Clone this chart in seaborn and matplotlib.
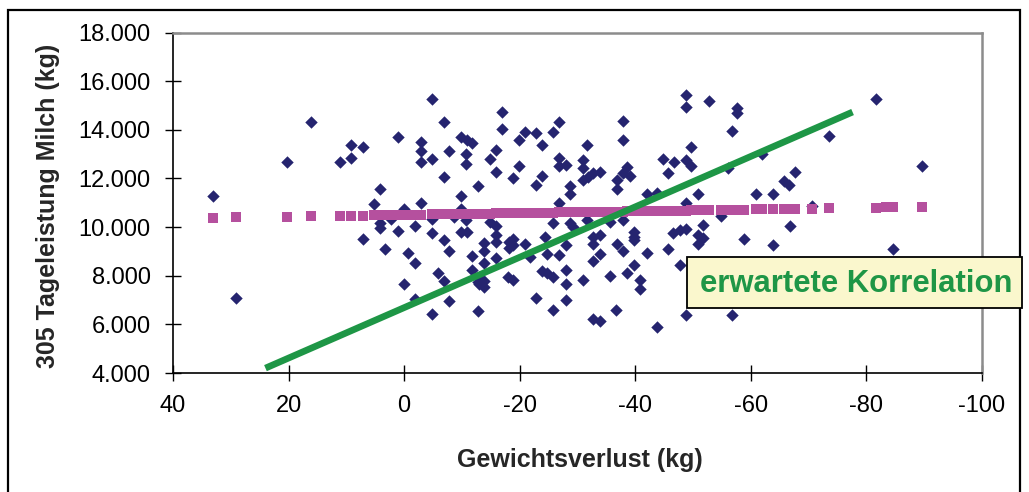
import numpy as np
import pandas as pd
import matplotlib
matplotlib.use("Agg")
import matplotlib.pyplot as plt
from matplotlib.patches import Rectangle
from matplotlib.ticker import FuncFormatter
import seaborn as sns

# Gewichtsverlust (kg) je Kuh
weight_change = [
    16.2, 20.2, 33.1, 29.1,
    1.1, 9.2, 7.1, 9.2, 11.1, 4.1, 5.2, 0.1, 4.1, 4.1, 2.3, 1.1, 7.1, 3.3, -0.7, 0.0,
    -4.8, -6.9, -2.9, -2.9, -4.8, -2.9, -7.75, -9.8, -10.8, -11.7, -10.7, -10.7, -6.9,
    -12.7, -9.9, -2.9, -9.8, -8.7, -4.8, -10.7, -1.8, -4.8, -9.8, -10.8, -6.9, -7.75,
    -11.7, -1.8, -11.7, -5.8, -6.9, -12.7, -1.8, -7.75, -4.8, -12.7,
    -16.9, -16.9, -20.9, -19.9, -22.8, -23.8, -15.9, -14.8, -15.9, -19.9, -18.8, -23.8,
    -22.8, -14.8, -15.9, -15.9, -15.9, -13.9, -18.1, -18.8, -18.1, -18.8, -20.9, -13.9,
    -21.8, -15.9, -13.9, -23.8, -12.9, -13.9, -12.9, -13.9, -18.0, -18.8, -22.8,
    -26.8, -25.8, -31.7, -26.8, -26.8, -28.0, -30.9, -30.9, -32.7, -33.9, -31.9, -30.9,
    -28.7, -28.7, -36.8, -36.8, -26.8, -25.8, -28.7, -29.3, -31.6, -32.7, -33.9, -32.7,
    -35.6, -36.8, -24.3, -24.7, -28.0, -26.8, -33.9, -32.7, -24.7, -25.8, -28.0, -28.0,
    -30.9, -35.6, -28.0, -25.8, -36.6, -32.7, -33.9,
    -48.8, -48.8, -37.9, -37.9, -44.8, -46.7, -48.8, -45.7, -38.6, -37.9, -39.0, -42.0,
    -43.7, -48.8, -37.9, -46.6, -47.7, -48.8, -39.8, -39.8, -39.8, -37.9, -42.0, -45.7,
    -38.6, -39.8, -40.8, -40.8, -47.7, -43.8, -48.8,
    -52.7, -57.6, -57.6, -56.7, -49.7, -49.7, -61.9, -56.1, -67.6, -65.7, -66.6, -60.9,
    -63.8, -50.9, -54.8, -66.7, -51.7, -50.9, -51.7, -50.9, -58.8, -63.8, -56.7,
    -81.7, -73.5, -89.7, -70.5, -84.6, -83.4,
]

# 305-Tage-Milchleistung (kg) je Kuh
milk_yield = [
    14300, 12660, 11280, 7090,
    13690, 13360, 13280, 12860, 12660, 11560, 10940, 10750, 10150, 9980, 10350, 9840, 9500, 9100, 8950, 7650,
    15280, 14320, 13490, 13140, 12790, 12670, 13140, 13710, 13600, 13440, 13000, 12590, 12040,
    11680, 11280, 11000, 10740, 10420, 10350, 10280, 10050, 9760, 9790, 9790, 9460, 9020,
    8830, 8540, 8230, 8130, 7790, 7730, 7060, 6960, 6420, 6550,
    14730, 14040, 13910, 13600, 13850, 13360, 13160, 12810, 12270, 12530, 12000, 12090,
    11750, 10210, 10050, 9670, 9390, 9350, 9400, 9500, 9150, 9250, 9320, 9020,
    8770, 8730, 8530, 8190, 7950, 7800, 7650, 7520, 7930, 7820, 7100,
    14320, 13910, 13360, 12860, 12510, 12550, 12750, 12440, 12210, 12260, 12070, 11930,
    11680, 11380, 11930, 11550, 11000, 10170, 10150, 10010, 10280, 9600, 9670, 9320,
    10210, 9320, 9600, 8910, 9260, 8840, 8910, 8600, 8120, 7950, 8230, 7650,
    7840, 7980, 6990, 6610, 6610, 6240, 6140,
    15420, 14950, 14370, 13600, 12810, 12670, 12750, 12210, 12450, 12210, 12090, 11380,
    11420, 10970, 10310, 9760, 9900, 9930, 9800, 9600, 9460, 9020, 8940, 9080,
    8120, 8430, 7810, 7470, 8420, 5890, 6370,
    15190, 14890, 14700, 13960, 13300, 12510, 13000, 12410, 12270, 11900, 11720, 11380,
    11350, 11350, 10450, 10040, 10080, 9670, 9550, 9300, 9490, 9260, 6370,
    15280, 13750, 12520, 10850, 9080, 7500,
]

# Lineare Trendlinie der Messwerte (Werte an den Rändern der Punktwolke)
trend_x = [33.1, -89.7]
trend_y = [10380, 10830]

# Erwartete Korrelation (Geradenendpunkte)
expected_x = [24.0, -77.6]
expected_y = [4200, 14730]

x_ticks = [40, 20, 0, -20, -40, -60, -80, -100]
y_ticks = [4000, 6000, 8000, 10000, 12000, 14000, 16000, 18000]

NAVY = "#25246F"
PINK = "#B5509E"
GREEN = "#1E9646"

sns.set_theme(style="white")
plt.rcParams["font.family"] = ["Liberation Sans", "DejaVu Sans"]
plt.rcParams["axes.unicode_minus"] = False

W, H = 1029, 492
fig = plt.figure(figsize=(W / 100, H / 100), dpi=100)
fig.patch.set_facecolor("white")

left, right, top, bottom = 173, 982, 32.5, 373
ax = fig.add_axes([left / W, 1 - bottom / H, (right - left) / W, (bottom - top) / H])
ax.set_facecolor("white")

df = pd.DataFrame({"verlust": weight_change, "milch": milk_yield})
# Trendwerte an jeder Messstelle (Excel-Trendreihe)
t_slope = (trend_y[1] - trend_y[0]) / (trend_x[1] - trend_x[0])
df["trend"] = trend_y[0] + t_slope * (df["verlust"] - trend_x[0])

sns.scatterplot(data=df, x="verlust", y="milch", marker="D", s=40, color=NAVY,
                linewidth=0, ax=ax, zorder=3, legend=False)
sns.scatterplot(data=df, x="verlust", y="trend", marker="s", s=56, color=PINK,
                linewidth=0, ax=ax, zorder=4, legend=False)
sns.lineplot(x=expected_x, y=expected_y, color=GREEN, linewidth=4.8, ax=ax,
             zorder=5, solid_capstyle="butt")

ax.set_xlim(40, -100)
ax.set_ylim(4000, 18000)
ax.set_xticks(x_ticks)
ax.set_yticks(y_ticks)
ax.yaxis.set_major_formatter(FuncFormatter(lambda v, p: f"{int(v):,}".replace(",", ".")))
ax.xaxis.set_major_formatter(FuncFormatter(lambda v, p: f"{int(v)}"))

ax.tick_params(axis="both", which="major", direction="inout", length=12, width=1,
               color="black", labelsize=17, labelcolor="black", pad=10,
               bottom=True, left=True)

for side in ("left", "bottom"):
    ax.spines[side].set_color("black")
    ax.spines[side].set_linewidth(1.2)
for side in ("top", "right"):
    ax.spines[side].set_color("#8C8C8C")
    ax.spines[side].set_linewidth(1.8)

ax.set_xlabel("Gewichtsverlust (kg)", fontsize=18, fontweight="bold", va="center")
ax.set_ylabel("305 Tageleistung Milch (kg)", fontsize=18, fontweight="bold", va="center")
ax.xaxis.set_label_coords(0.503, -0.2555)
ax.yaxis.set_label_coords(-0.1545, 0.49)

# äußerer Rahmen
fig.add_artist(Rectangle((8 / W, -0.05), (1020 - 8) / W, 1.05 - 10 / H,
                         transform=fig.transFigure, fill=False,
                         edgecolor="black", linewidth=1.6, zorder=0))

# Hinweisbox
bx0, bx1, by0, by1 = 687, 1022, 256.7, 308.3
fig.add_artist(Rectangle((bx0 / W, 1 - by1 / H), (bx1 - bx0) / W, (by1 - by0) / H,
                         transform=fig.transFigure, facecolor="#FAF7CD",
                         edgecolor="black", linewidth=1.3, zorder=10))
fig.text(856 / W, 1 - 284 / H, "erwartete Korrelation", color=GREEN, fontsize=22.3,
         fontweight="bold", ha="center", va="center", zorder=11)

fig.savefig("out.png", dpi=100)
